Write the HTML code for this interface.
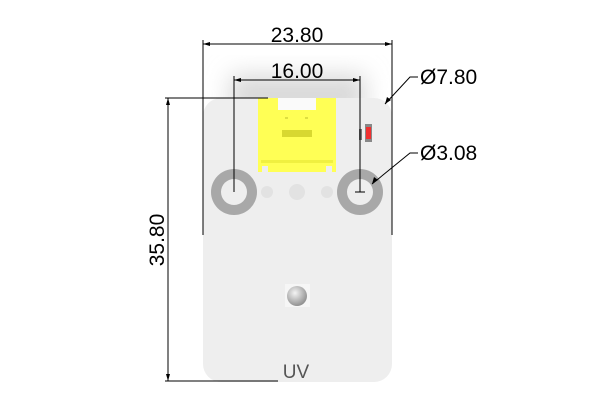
<!DOCTYPE html>
<html><head><meta charset="utf-8"><style>
html,body{margin:0;padding:0;background:#fff;}
svg{display:block;}
text{font-family:"Liberation Sans",sans-serif;}
</style></head><body>
<svg width="600" height="400" viewBox="0 0 600 400" xmlns="http://www.w3.org/2000/svg">
<defs>
<radialGradient id="g" cx="0.4" cy="0.35" r="0.7"><stop offset="0" stop-color="#f4f4f4"/><stop offset="1" stop-color="#8a8a8a"/></radialGradient>
<filter id="b" x="-50%" y="-50%" width="200%" height="200%"><feGaussianBlur stdDeviation="12"/></filter>
</defs>
<rect x="0" y="0" width="600" height="400" fill="#fff"/>
<rect x="230" y="75" width="135" height="40" fill="#d8d8d8" filter="url(#b)"/>
<!-- board -->
<rect x="203" y="98" width="189" height="284" rx="18" fill="#eeeeee"/>
<!-- connector -->
<rect x="258" y="98" width="78" height="74" fill="#ffff55"/>
<rect x="278" y="98" width="38" height="12" fill="#fafafa"/>
<rect x="282" y="130" width="30" height="7" fill="#d8d830"/>
<rect x="285" y="117" width="3" height="2" fill="#dede40"/>
<rect x="305" y="117" width="3" height="2" fill="#dede40"/>
<rect x="261" y="160" width="72" height="3" fill="#f0f040"/>
<rect x="262" y="166" width="6" height="6" fill="#eeeeee"/>
<rect x="326" y="166" width="6" height="6" fill="#eeeeee"/>
<!-- holes -->
<circle cx="234" cy="192" r="23" fill="#a8a8a8"/>
<circle cx="234" cy="192" r="13" fill="#eeeeee"/>
<circle cx="360" cy="192" r="23" fill="#a8a8a8"/>
<circle cx="360" cy="192" r="13" fill="#eeeeee"/>
<circle cx="267" cy="192" r="6" fill="#e2e2e2"/>
<circle cx="297" cy="192" r="8" fill="#e2e2e2"/>
<circle cx="327" cy="192" r="6" fill="#e2e2e2"/>
<!-- led -->
<rect x="365" y="124" width="7" height="18" fill="#888"/>
<rect x="366" y="127" width="5" height="12" fill="#f03030"/>
<rect x="359" y="129" width="3" height="11" fill="#777"/>
<!-- uv dot -->
<rect x="285" y="284" width="25" height="23" fill="#f6f6f6"/>
<circle cx="297" cy="296" r="10" fill="url(#g)"/>
<text x="296" y="378" font-size="19" fill="#555" text-anchor="middle">UV</text>
<!-- dimensions -->
<g stroke="#000" stroke-width="1" fill="none">
<line x1="203" y1="40" x2="203" y2="235"/>
<line x1="392" y1="40" x2="392" y2="235"/>
<line x1="203" y1="44" x2="392" y2="44"/>
<line x1="234" y1="76" x2="234" y2="192"/>
<line x1="360" y1="76" x2="360" y2="192"/>
<line x1="234" y1="80" x2="360" y2="80"/>
<line x1="165" y1="98" x2="268" y2="98"/>
<line x1="165" y1="381" x2="278" y2="381"/>
<line x1="168" y1="98" x2="168" y2="381"/>
<line x1="355" y1="192" x2="365" y2="192"/>
<polyline points="418,77 410,77 385,104"/>
<polyline points="418,153 410,153 372,184"/>
</g>
<g fill="#000">
<polygon points="203,44 210,42 210,46"/>
<polygon points="392,44 385,42 385,46"/>
<polygon points="234,80 241,78 241,82"/>
<polygon points="360,80 353,78 353,82"/>
<polygon points="168,98 166,105 170,105"/>
<polygon points="168,381 166,374 170,374"/>
<polygon points="385,104 387,97 391,100"/>
<polygon points="372,184 374,177 378,180"/>
</g>
<text x="297" y="42" font-size="21" text-anchor="middle">23.80</text>
<text x="297" y="78" font-size="21" text-anchor="middle">16.00</text>
<text x="420" y="84" font-size="21">Ø7.80</text>
<text x="420" y="160" font-size="21">Ø3.08</text>
<text transform="translate(164,240) rotate(-90)" font-size="21" text-anchor="middle">35.80</text>
</svg>
</body></html>
